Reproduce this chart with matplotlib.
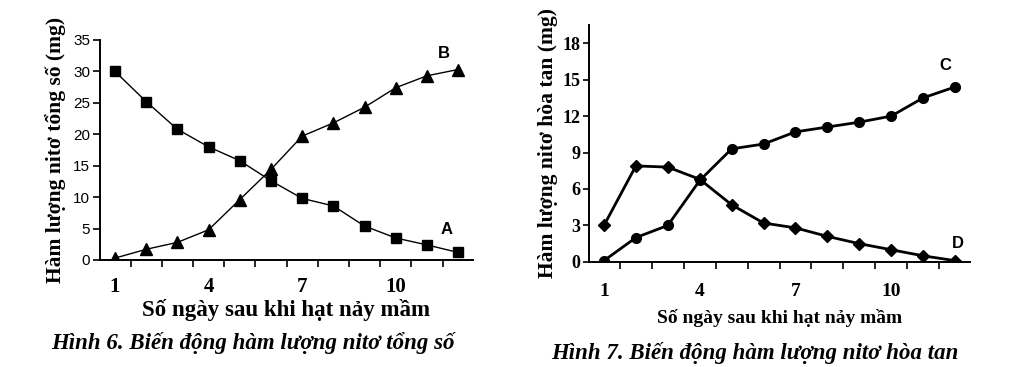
import matplotlib
matplotlib.use("Agg")
import matplotlib.pyplot as plt
from matplotlib.ticker import FixedLocator

days = list(range(1, 13))
A_total = [30.0, 25.2, 20.8, 18.0, 15.8, 12.6, 9.8, 8.6, 5.4, 3.5, 2.4, 1.2]
B_total = [0.3, 1.7, 2.8, 4.8, 9.6, 14.4, 19.7, 21.8, 24.3, 27.4, 29.3, 30.3]
C_soluble = [0.1, 2.0, 3.0, 6.7, 9.3, 9.7, 10.7, 11.1, 11.5, 12.0, 13.5, 14.4]
D_soluble = [3.0, 7.9, 7.8, 6.8, 4.7, 3.2, 2.8, 2.1, 1.5, 1.0, 0.5, 0.1]

left_yticks = [0, 5, 10, 15, 20, 25, 30, 35]
right_yticks = [0, 3, 6, 9, 12, 15, 18]
xtick_labels = [1, 4, 7, 10]

serif = "Liberation Serif"
sans = "Liberation Sans"

fig = plt.figure(figsize=(10.13, 3.67), dpi=100)

# ---------- Left chart ----------
ax1 = fig.add_axes([0.0987, 0.2916, 0.368, 0.5995])
ax1.plot(days, A_total, color="black", lw=1.0, marker="s", ms=7, mfc="black", mec="black")
ax1.plot(days, B_total, color="black", lw=1.0, marker="^", ms=8, mfc="black", mec="black")
ax1.set_xlim(0.52, 12.47)
ax1.set_ylim(0, 35)
ax1.set_yticks(left_yticks)
ax1.set_yticklabels([str(v) for v in left_yticks], fontfamily=sans, fontsize=11)
ax1.set_xticks(xtick_labels)
ax1.set_xticklabels([str(v) for v in xtick_labels], fontfamily=serif, fontweight="bold", fontsize=15)
ax1.xaxis.set_minor_locator(FixedLocator([d + 0.5 for d in range(0, 13)]))
ax1.tick_params(axis="x", which="major", length=0, pad=12)
ax1.tick_params(axis="x", which="minor", length=5, width=1.2, direction="out")
ax1.tick_params(axis="y", length=5, width=1.2, direction="out", pad=2)
for s in ["top", "right"]:
    ax1.spines[s].set_visible(False)
for s in ["left", "bottom"]:
    ax1.spines[s].set_linewidth(1.4)
ax1.set_xlabel("Số ngày sau khi hạt nảy mầm", fontfamily=serif, fontweight="bold", fontsize=16.5, labelpad=2)
ax1.set_ylabel("Hàm lượng nitơ tổng số (mg)", fontfamily=serif, fontweight="bold", fontsize=15.5, labelpad=5)
ax1.text(11.64, 4.9, "A", fontfamily=sans, fontweight="bold", fontsize=12, ha="center", va="center")
ax1.text(11.54, 32.9, "B", fontfamily=sans, fontweight="bold", fontsize=12, ha="center", va="center")

# ---------- Right chart ----------
ax2 = fig.add_axes([0.5814, 0.2864, 0.3762, 0.6456])
ax2.plot(days, C_soluble, color="black", lw=2.0, marker="o", ms=7, mfc="black", mec="black")
ax2.plot(days, D_soluble, color="black", lw=2.0, marker="D", ms=6, mfc="black", mec="black")
ax2.set_xlim(0.53, 12.47)
ax2.set_ylim(0, 19.5)
ax2.set_yticks(right_yticks)
ax2.set_yticklabels([str(v) for v in right_yticks], fontfamily=serif, fontweight="bold", fontsize=13)
ax2.set_xticks(xtick_labels)
ax2.set_xticklabels([str(v) for v in xtick_labels], fontfamily=serif, fontweight="bold", fontsize=14)
ax2.xaxis.set_minor_locator(FixedLocator([d + 0.5 for d in range(0, 13)]))
ax2.tick_params(axis="x", which="major", length=0, pad=15)
ax2.tick_params(axis="x", which="minor", length=5, width=1.2, direction="out")
ax2.tick_params(axis="y", length=4, width=1.2, direction="out", pad=2)
for s in ["top", "right"]:
    ax2.spines[s].set_visible(False)
for s in ["left", "bottom"]:
    ax2.spines[s].set_linewidth(1.4)
ax2.set_xlabel("Số ngày sau khi hạt nảy mầm", fontfamily=serif, fontweight="bold", fontsize=14, labelpad=7)
ax2.set_ylabel("Hàm lượng nitơ hòa tan (mg)", fontfamily=serif, fontweight="bold", fontsize=15.5, labelpad=3)
ax2.text(11.69, 16.2, "C", fontfamily=sans, fontweight="bold", fontsize=12, ha="center", va="center")
ax2.text(12.1, 1.54, "D", fontfamily=sans, fontweight="bold", fontsize=12, ha="center", va="center")

# ---------- Captions ----------
fig.text(253 / 1013, 1 - 343 / 367, "Hình 6. Biến động hàm lượng nitơ tổng số",
         fontfamily=serif, fontweight="bold", fontstyle="italic", fontsize=16.5, ha="center", va="center")
fig.text(755 / 1013, 1 - 353 / 367, "Hình 7. Biến động hàm lượng nitơ hòa tan",
         fontfamily=serif, fontweight="bold", fontstyle="italic", fontsize=16.5, ha="center", va="center")

fig.savefig("out.png", dpi=100)
